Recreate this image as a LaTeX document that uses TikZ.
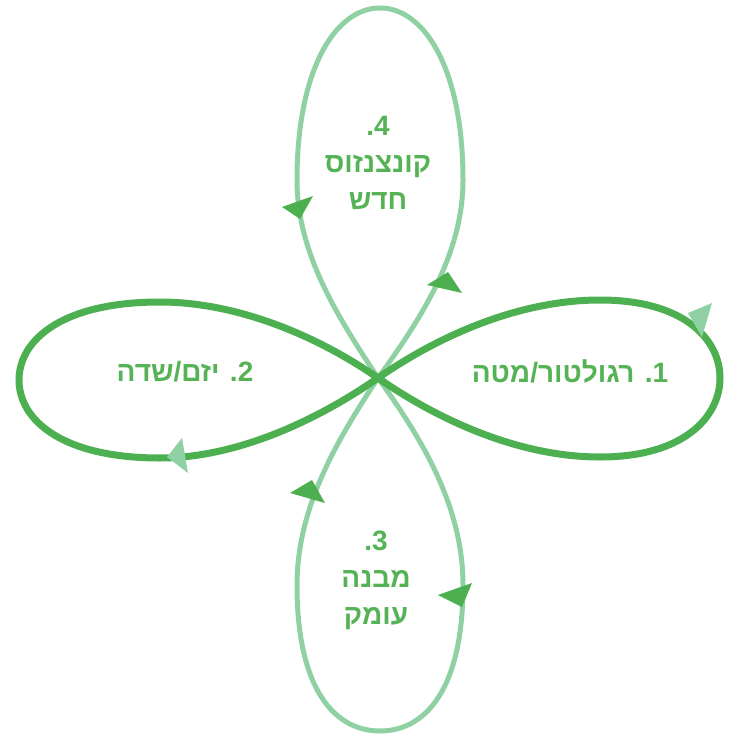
\documentclass[tikz,border=0pt]{standalone}
\usepackage{fontspec}
\newfontfamily\hebfont[Script=Hebrew]{Liberation Sans}
\TeXXeTstate=1
\definecolor{dk}{HTML}{4CAF50}
\definecolor{lt}{HTML}{8FD1A2}
\definecolor{txt}{HTML}{55B255}
\begin{document}
\begin{tikzpicture}[x=1pt,y=-1pt,
  lightloop/.style={draw=lt,line width=5pt},
  darkloop/.style={draw=dk,line width=7pt},
  ltip/.style={fill=lt},
  dtip/.style={fill=dk},
  lbl/.style={text=txt,align=center,inner sep=0pt,
    font=\hebfont\bfseries\fontsize{28}{37}\selectfont}]
\useasboundingbox (0,0) rectangle (737,738);
\coordinate (C) at (378,378);
% vertical (light) loops
\draw[lightloop] (C) .. controls (420,320) and (463,255) .. (463,180)
  .. controls (463,70) and (425,8) .. (380,8)
  .. controls (335,8) and (297,70) .. (297,180)
  .. controls (297,255) and (340,320) .. (C);
\draw[lightloop] (C) .. controls (420,436) and (463,505) .. (463,585)
  .. controls (463,690) and (425,731) .. (380,731)
  .. controls (335,731) and (297,690) .. (297,585)
  .. controls (297,505) and (340,436) .. (C);
% arrows on light loops
\fill[dtip] (313,196) -- (282,207) -- (300,219) -- cycle;
\fill[dtip] (448,272) -- (427,285) -- (462,293) -- cycle;
\fill[dtip] (312,480) -- (290,493) -- (325,503) -- cycle;
\fill[dtip] (472,583) -- (438,595) -- (462,607) -- cycle;
% horizontal (dark) loops
\draw[darkloop] (C) .. controls (440,335) and (520,300) .. (600,300)
  .. controls (685,300) and (720,340) .. (720,378)
  .. controls (720,416) and (685,457) .. (600,457)
  .. controls (520,457) and (440,421) .. (C);
\draw[darkloop] (C) .. controls (316,335) and (236,302) .. (160,302)
  .. controls (62,302) and (19,340) .. (19,380)
  .. controls (19,420) and (62,458) .. (160,458)
  .. controls (236,458) and (316,421) .. (C);
% arrows on dark loops
\fill[ltip] (182,438) -- (167,457) -- (188,473) -- cycle;
\fill[ltip] (712,303) -- (688,313) -- (702,337) -- cycle;
% labels
\node[lbl] (l1) at (570,372) {\beginR 1. רגולטור/מטה\endR};
\node[lbl] (l2) at (185,372) {\beginR 2. יזם/שדה\endR};
\node[lbl] (l4) at (378,163) {\beginR 4.\endR\\\beginR קונצנזוס\endR\\\beginR חדש\endR};
\node[lbl] (l3) at (376,580) {\beginR 3.\endR\\\beginR מבנה\endR\\\beginR עומק\endR};
\end{tikzpicture}
\end{document}
